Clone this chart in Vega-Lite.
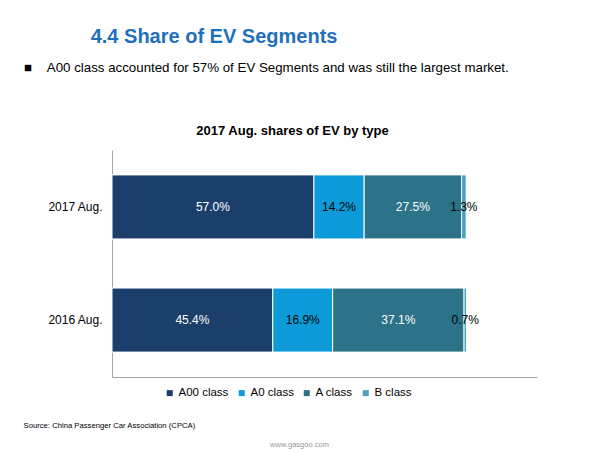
{
  "$schema": "https://vega.github.io/schema/vega-lite/v6.json",
  "autosize": "none",
  "width": 425,
  "height": 227,
  "padding": {"left": 112, "top": 150, "right": 63, "bottom": 73},
  "background": "white",
  "config": {
    "font": "Liberation Sans",
    "view": {"stroke": null}
  },
  "title": {
    "text": "\u200b\u00a0\u00a0\u00a0\u00a0\u00a0\u00a0\u00a0\u00a0\u00a0\u00a0\u00a0\u00a04.4 Share of EV Segments",
    "subtitle": "■\u00a0\u00a0\u00a0\u00a0A00 class accounted for 57% of EV Segments and was still the largest market.",
    "anchor": "start",
    "frame": "group",
    "dx": -88,
    "offset": 50,
    "fontSize": 20,
    "fontWeight": "bold",
    "color": "#1F6FBF",
    "subtitleFontSize": 13.3,
    "subtitleColor": "#000000",
    "subtitlePadding": 14
  },
  "data": {
    "values": [
      {"period": "2017 Aug.", "cls": "A00 class", "rank": 1, "share": 0.570},
      {"period": "2017 Aug.", "cls": "A0 class", "rank": 2, "share": 0.142},
      {"period": "2017 Aug.", "cls": "A class", "rank": 3, "share": 0.275},
      {"period": "2017 Aug.", "cls": "B class", "rank": 4, "share": 0.013},
      {"period": "2016 Aug.", "cls": "A00 class", "rank": 1, "share": 0.454},
      {"period": "2016 Aug.", "cls": "A0 class", "rank": 2, "share": 0.169},
      {"period": "2016 Aug.", "cls": "A class", "rank": 3, "share": 0.371},
      {"period": "2016 Aug.", "cls": "B class", "rank": 4, "share": 0.007}
    ]
  },
  "encoding": {
    "y": {
      "field": "period",
      "type": "nominal",
      "sort": ["2017 Aug.", "2016 Aug."],
      "scale": {"paddingInner": 0.434, "paddingOuter": 0.22},
      "axis": {
        "title": "www.gasgoo.com",
        "titleAngle": 0,
        "titleX": 187,
        "titleY": 294,
        "titleAlign": "center",
        "titleBaseline": "middle",
        "titleFontSize": 7.5,
        "titleFontWeight": "normal",
        "titleColor": "#999999",
        "labelFontSize": 12,
        "labelColor": "#000000",
        "labelPadding": 10,
        "ticks": false,
        "domainColor": "#A6A6A6",
        "grid": false
      }
    },
    "order": {"field": "rank", "type": "quantitative"}
  },
  "layer": [
    {
      "mark": {"type": "bar", "stroke": "#FFFFFF", "strokeWidth": 1},
      "encoding": {
        "x": {
          "field": "share",
          "type": "quantitative",
          "stack": "zero",
          "scale": {"domain": [0, 1.2], "nice": false},
          "axis": {
            "orient": "bottom",
            "labels": false,
            "ticks": false,
            "grid": false,
            "domainColor": "#A6A6A6",
            "title": "Source: China Passenger Car Association (CPCA)",
            "titleX": -89,
            "titleY": 48,
            "titleAlign": "left",
            "titleAnchor": null,
            "titleBaseline": "middle",
            "titleFontSize": 7.7,
            "titleFontWeight": "normal",
            "titleColor": "#000000"
          }
        },
        "color": {
          "field": "cls",
          "type": "nominal",
          "scale": {
            "domain": ["A00 class", "A0 class", "A class", "B class"],
            "range": ["#1C3E6B", "#0C9BD8", "#2C7389", "#4AA3BD"]
          },
          "legend": {
            "title": null,
            "orient": "none",
            "legendX": 52,
            "legendY": 237,
            "direction": "horizontal",
            "columns": 4,
            "symbolType": "square",
            "symbolSize": 36,
            "symbolStrokeWidth": 0,
            "labelFontSize": 11.5,
            "labelColor": "#000000",
            "labelOffset": 3,
            "columnPadding": 7
          }
        }
      }
    },
    {
      "mark": {"type": "text", "fontSize": 12},
      "encoding": {
        "x": {
          "field": "share",
          "type": "quantitative",
          "stack": "zero",
          "bandPosition": 0.5,
          "axis": {
            "orient": "top",
            "labels": false,
            "ticks": false,
            "grid": false,
            "domain": false,
            "title": "2017 Aug. shares of EV by type",
            "titleX": 180,
            "titleY": -20,
            "titleAlign": "center",
            "titleAnchor": null,
            "titleBaseline": "middle",
            "titleFontSize": 13,
            "titleFontWeight": "bold",
            "titleColor": "#000000"
          }
        },
        "text": {"field": "share", "type": "quantitative", "format": ".1%"},
        "color": {
          "field": "cls",
          "type": "nominal",
          "scale": {
            "domain": ["A00 class", "A0 class", "A class", "B class"],
            "range": ["#FFFFFF", "#000000", "#FFFFFF", "#000000"]
          },
          "legend": null
        }
      }
    }
  ],
  "resolve": {"scale": {"color": "independent"}, "axis": {"x": "independent"}}
}
